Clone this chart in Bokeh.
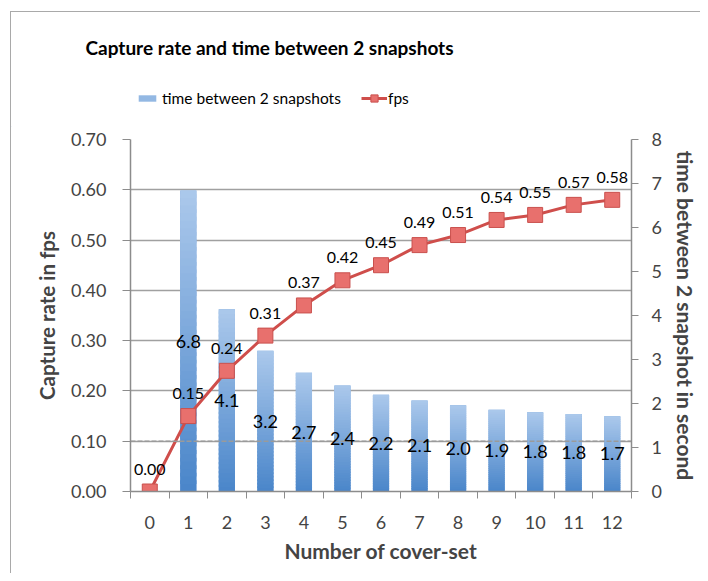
from bokeh.plotting import figure
from bokeh.layouts import column, row
from bokeh.models import (Range1d, LinearAxis, FixedTicker, NumeralTickFormatter,
                          ColumnDataSource, Legend, LegendItem, Span, LabelSet, Label)
from bokeh.core.properties import value
from bokeh.embed import file_html
from bokeh.resources import INLINE

# ---- data ----
cover_sets = list(range(0, 13))
fps = [0.00, 0.15, 0.24, 0.31, 0.37, 0.42, 0.45, 0.49, 0.51, 0.54, 0.55, 0.57, 0.58]
bar_x = list(range(1, 13))
time_between = [6.84, 4.14, 3.20, 2.70, 2.41, 2.20, 2.07, 1.96, 1.86, 1.80, 1.76, 1.71]
left_ticks = [0.0, 0.1, 0.2, 0.3, 0.4, 0.5, 0.6, 0.7]
right_ticks = [0, 1, 2, 3, 4, 5, 6, 7, 8]
title_text = "Capture rate and time between 2 snapshots"

FONT = "Lato"
GRAY = "#8c8c8c"
BORDER = "#a9a9a9"
LINE_RED = "#CF4E4B"
MARK_FILL = "#E8706D"
MARK_LINE = "#C9504D"

OFF_X = 11   # outer chart border offset (margin + border)
OFF_Y = 12
TOP_H = 127 - OFF_Y
W = 700 - OFF_X
MAIN_H = 446

# ---------------- header figure (title + legend) ----------------
top = figure(width=W, height=TOP_H, output_backend="svg", toolbar_location=None,
             x_range=Range1d(0, W), y_range=Range1d(0, TOP_H),
             min_border=0, min_border_left=0, min_border_right=0,
             min_border_top=0, min_border_bottom=0, title=None)
top.axis.visible = False
top.grid.visible = False
top.outline_line_color = None
top.background_fill_color = "white"
top.border_fill_color = "white"
top.add_layout(Label(x=269 - OFF_X, y=TOP_H - (47 - OFF_Y), text=title_text,
                     text_align="center", text_baseline="middle", text_font=FONT,
                     text_font_size="19px", text_font_style="bold", text_color="black"))
d_bar = top.vbar(x=[-100], top=[1], width=1, color="#93B8E3", line_color=None)
d_line = top.line(x=[-100, -90], y=[1, 1], line_color=LINE_RED, line_width=3)
d_mark = top.scatter(x=[-100], y=[1], marker="square", size=15,
                     fill_color=MARK_FILL, line_color=MARK_LINE)
legend_y = TOP_H - (98 - OFF_Y)
leg1 = Legend(items=[LegendItem(label="time between 2 snapshots", renderers=[d_bar])],
              orientation="horizontal", location=(136 - OFF_X, legend_y - 9),
              label_text_font=FONT, label_text_font_size="15.5px",
              label_text_color="black", label_height=18,
              glyph_width=22, glyph_height=8, label_standoff=4,
              border_line_color=None, background_fill_alpha=0,
              margin=0, padding=0)
leg2 = Legend(items=[LegendItem(label="fps", renderers=[d_line, d_mark])],
              orientation="horizontal", location=(361 - OFF_X, legend_y - 9),
              label_text_font=FONT, label_text_font_size="15.5px",
              label_text_color="black", label_height=18,
              glyph_width=26, glyph_height=18, label_standoff=1,
              border_line_color=None, background_fill_alpha=0,
              margin=0, padding=0)
top.add_layout(leg1)
top.add_layout(leg2)

# ---------------- main chart ----------------
p = figure(width=W, height=MAIN_H, output_backend="svg", toolbar_location=None,
           x_range=Range1d(-0.5, 12.5), y_range=Range1d(0, 0.7),
           min_border_left=130 - OFF_X, min_border_right=69, min_border_top=12,
           min_border_bottom=82, title=None)
p.outline_line_color = None
p.background_fill_color = "white"
p.border_fill_color = "white"
p.extra_y_ranges = {"time": Range1d(0, 8)}

# gradient bars: solid base + vertical slices
BAR_W = 0.42
p.vbar(x=bar_x, top=time_between, width=BAR_W, color="#7AA6DA", line_color=None,
       y_range_name="time")
N = 40
top_c = (0xAC, 0xC9, 0xEC)
bot_c = (0x4A, 0x86, 0xCA)
xs, bots, tops, cols = [], [], [], []
for x, v in zip(bar_x, time_between):
    for i in range(N):
        f = (i + 0.5) / N
        r = int(bot_c[0] + (top_c[0] - bot_c[0]) * f)
        g = int(bot_c[1] + (top_c[1] - bot_c[1]) * f)
        b = int(bot_c[2] + (top_c[2] - bot_c[2]) * f)
        xs.append(x)
        bots.append(v * i / N)
        tops.append(v * min(i + 1.5, N) / N)
        cols.append("#%02x%02x%02x" % (r, g, b))
bar_src = ColumnDataSource(dict(x=xs, bottom=bots, top=tops, color=cols))
p.vbar(x="x", bottom="bottom", top="top", width=BAR_W, color="color",
       line_color=None, source=bar_src, y_range_name="time")

# the 0.10 gridline shows over the bars in the reference
p.add_layout(Span(location=0.1, dimension="width", line_color="#9a9a9a",
                  line_width=1.5, line_dash="5 2", level="glyph"))

# bar labels, centered in bar
bl_src = ColumnDataSource(dict(x=bar_x, y=[v / 2 for v in time_between],
                               t=["%.1f" % v for v in time_between]))
p.add_layout(LabelSet(x="x", y="y", text="t", source=bl_src, y_range_name="time",
                      text_align="center", text_baseline="middle",
                      text_font=value(FONT), text_font_size=value("18px"),
                      text_color="black", level="overlay"))

# fps line
line_src = ColumnDataSource(dict(x=cover_sets, y=fps, t=["%.2f" % v for v in fps]))
p.line(x="x", y="y", source=line_src, line_color=LINE_RED, line_width=3)
p.scatter(x="x", y="y", source=line_src, marker="square", size=15,
          fill_color=MARK_FILL, line_color=MARK_LINE, line_width=1)
p.add_layout(LabelSet(x="x", y="y", text="t", source=line_src, y_offset=17,
                      text_align="center", text_baseline="bottom",
                      text_font=value(FONT), text_font_size=value("16px"),
                      text_color="black", level="overlay"))

# axes
xa = p.xaxis[0]
xa.ticker = FixedTicker(ticks=cover_sets, minor_ticks=[i - 0.5 for i in range(14)])
xa.major_tick_out = 0
xa.major_tick_in = 0
xa.minor_tick_out = 7
xa.minor_tick_in = 0
xa.minor_tick_line_color = GRAY
xa.axis_line_color = GRAY
xa.axis_line_width = 1.5
xa.major_label_text_font = FONT
xa.major_label_text_font_size = "18px"
xa.major_label_standoff = 17
xa.axis_label = "Number of cover-set"
xa.axis_label_text_font = FONT
xa.axis_label_text_font_style = "bold"
xa.axis_label_text_font_size = "21px"
xa.axis_label_standoff = 6

ya = p.yaxis[0]
ya.ticker = FixedTicker(ticks=left_ticks)
ya.formatter = NumeralTickFormatter(format="0.00")
ya.major_tick_out = 8
ya.major_tick_in = 0
ya.minor_tick_out = 0
ya.minor_tick_in = 0
ya.major_tick_line_color = GRAY
ya.axis_line_color = GRAY
ya.axis_line_width = 1.5
ya.major_label_text_font = FONT
ya.major_label_text_font_size = "18px"
ya.major_label_standoff = 16
ya.axis_label = "Capture rate in fps"
ya.axis_label_text_font = FONT
ya.axis_label_text_font_style = "bold"
ya.axis_label_text_font_size = "20.5px"
ya.axis_label_standoff = 9

ra = LinearAxis(y_range_name="time", ticker=FixedTicker(ticks=right_ticks))
ra.major_tick_out = 7
ra.major_tick_in = 0
ra.minor_tick_out = 0
ra.minor_tick_in = 0
ra.major_tick_line_color = GRAY
ra.axis_line_color = GRAY
ra.axis_line_width = 1.5
ra.major_label_text_font = FONT
ra.major_label_text_font_size = "18px"
ra.major_label_standoff = 13
ra.axis_label = "time between 2 snapshot in second"
ra.axis_label_text_font = FONT
ra.axis_label_text_font_style = "bold"
ra.axis_label_text_font_size = "21px"
ra.axis_label_standoff = 8
p.add_layout(ra, "right")

p.xgrid.grid_line_color = None
p.ygrid.grid_line_color = "#a0a0a0"
p.ygrid.grid_line_width = 1.5
p.ygrid.ticker = FixedTicker(ticks=left_ticks)

# nesting in rows keeps the header's frame from being aligned to the chart frame
layout = column(row(top), row(p), styles={"border-left": "1px solid " + BORDER,
                                          "border-top": "1px solid " + BORDER,
                                          "margin-left": "10px", "margin-top": "11px"})
open("out.html", "w").write(file_html(layout, INLINE))
